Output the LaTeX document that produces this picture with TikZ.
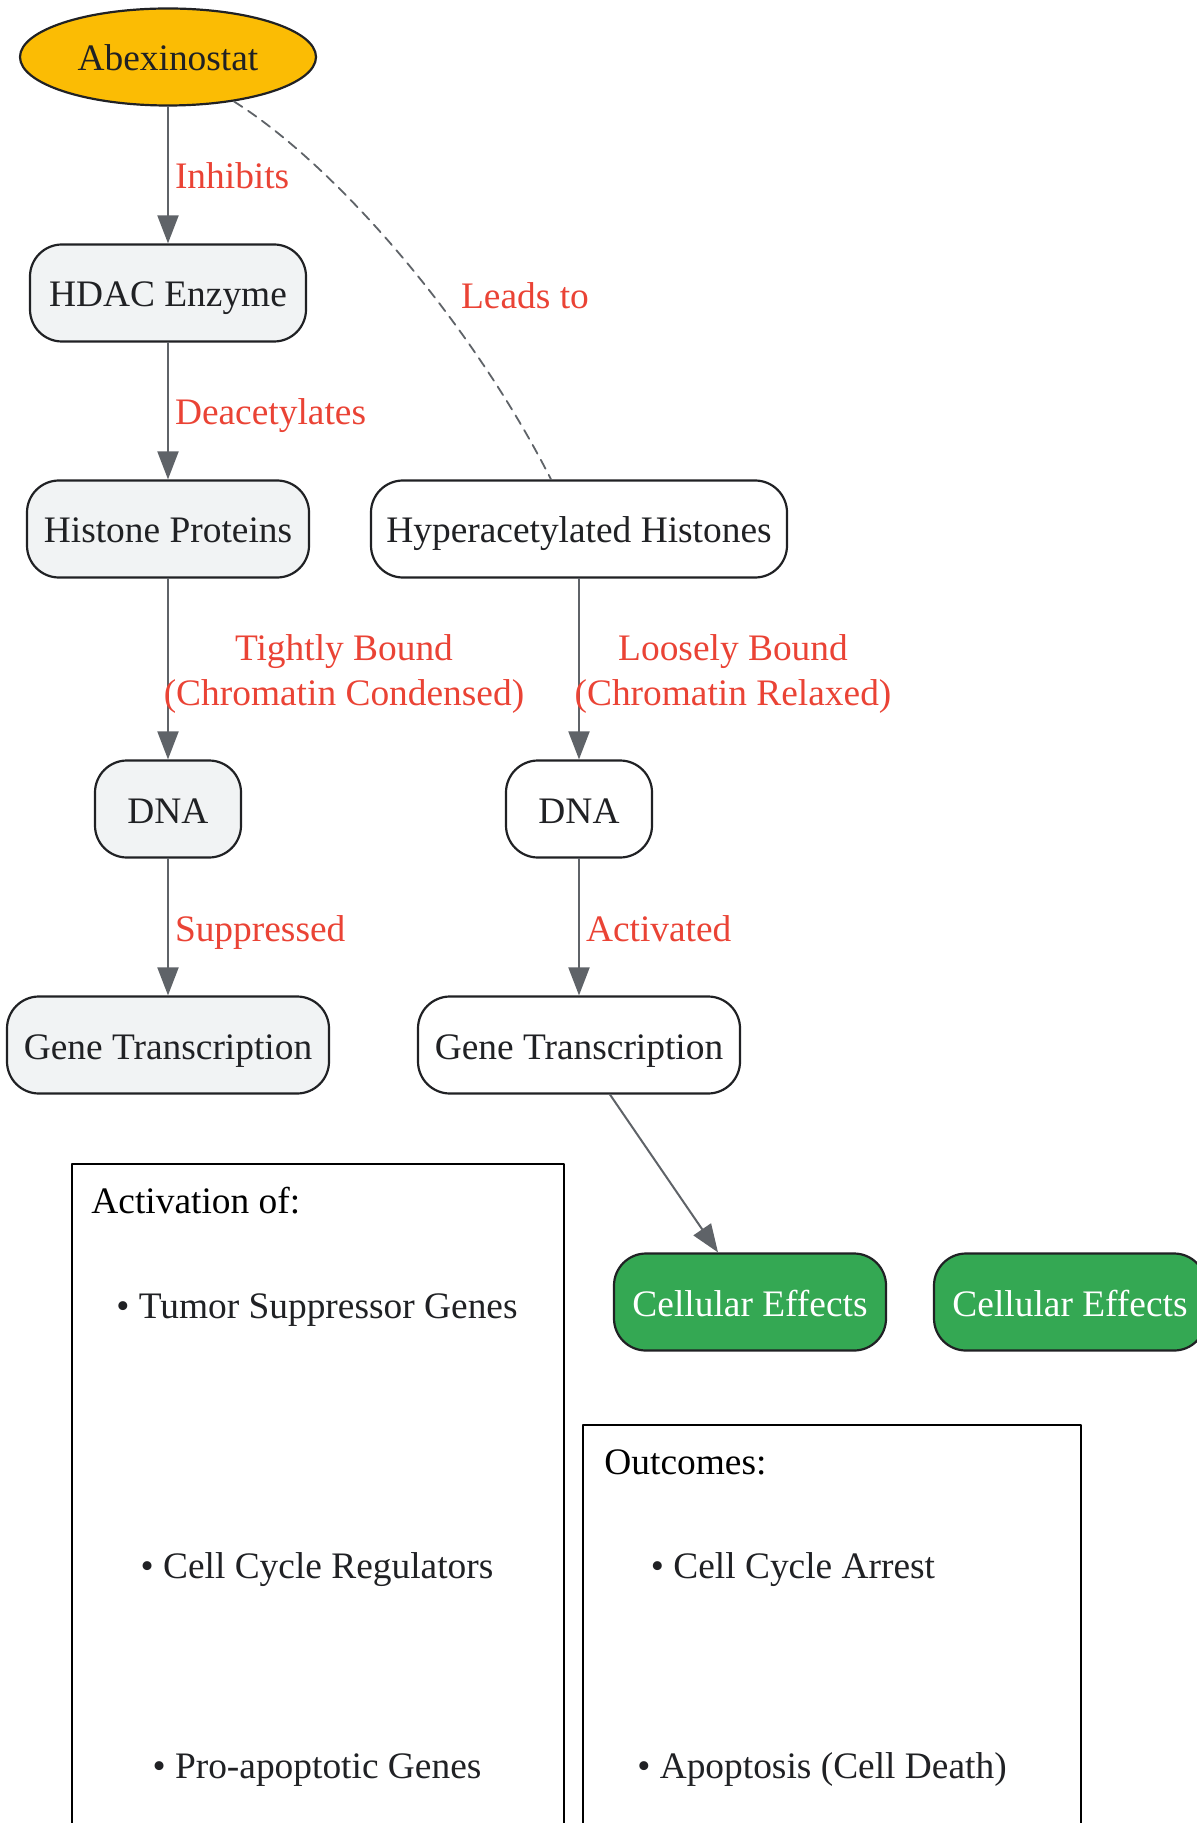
\documentclass[tikz,border=0pt]{standalone}
\usepackage{fontspec}
\setmainfont{Liberation Serif}
\usetikzlibrary{arrows.meta,shapes.geometric}
\definecolor{drugfill}{RGB}{251,188,4}
\definecolor{greyfill}{RGB}{241,243,244}
\definecolor{effectfill}{RGB}{52,168,83}
\definecolor{edgegrey}{RGB}{95,99,104}
\definecolor{labelred}{RGB}{234,67,53}
\definecolor{inkdark}{RGB}{32,33,36}

\begin{document}
\begin{tikzpicture}[x=0.5pt,y=-0.5pt,line cap=round,line join=round,
	>={Triangle[length=14pt,width=10.5pt]},
	every node/.style={font=\fontsize{18.7pt}{22.5pt}\selectfont},
	oneline/.style={text height=14pt,text depth=0pt},
	drug/.style={oneline,ellipse,draw=inkdark,line width=1.1pt,fill=drugfill,text=inkdark,minimum width=148pt,minimum height=48.5pt,inner sep=0pt},
	stepbox/.style={oneline,rectangle,rounded corners=16pt,draw=inkdark,line width=1.1pt,text=inkdark,minimum height=48.5pt,inner sep=0pt},
	offbox/.style={stepbox,fill=greyfill},
	onbox/.style={stepbox,fill=white},
	effect/.style={stepbox,fill=effectfill,text=white},
	listbox/.style={rectangle,draw=black,line width=1.2pt,inner sep=0pt},
	listtext/.style={oneline,text=inkdark},
	edge/.style={->,draw=edgegrey,line width=1pt},
	elabel/.style={oneline,text=labelred,inner sep=3pt},
	twolabel/.style={text=labelred,inner sep=3pt,align=center,yshift=-2.6pt}]
			\useasboundingbox (0,0) rectangle (1197,1823);
			\clip (0,0) rectangle (1197,1823);
			\node[drug] (abx) at (168,57) {Abexinostat};
			\node[offbox,minimum width=138pt] (hdac) at (168,293) {HDAC Enzyme};
			\node[offbox,minimum width=141pt] (hist) at (168,529) {Histone Proteins};
			\node[onbox,minimum width=208pt] (hyper) at (579,529) {Hyperacetylated Histones};
			\node[offbox,minimum width=73pt] (dnaoff) at (168,809) {DNA};
			\node[onbox,minimum width=73pt] (dnaon) at (579,809) {DNA};
			\node[offbox,minimum width=161pt] (geneoff) at (168,1045) {Gene Transcription};
			\node[onbox,minimum width=161pt] (geneon) at (579,1045) {Gene Transcription};
			\node[effect,minimum width=136pt] (effA) at (750,1302) {Cellular Effects};
			\node[effect,minimum width=136pt] (effB) at (1070,1302) {Cellular Effects};
			\draw[edge] (abx) -- node[elabel,right] {Inhibits} (hdac);
			\draw[edge] (hdac) -- node[elabel,right] {Deacetylates} (hist);
			\draw[edge] (hist) -- node[twolabel,xshift=88pt] {Tightly Bound\\(Chromatin Condensed)} (dnaoff);
			\draw[edge] (hyper) -- node[twolabel,xshift=77pt] {Loosely Bound\\(Chromatin Relaxed)} (dnaon);
			\draw[edge] (dnaoff) -- node[elabel,right] {Suppressed} (geneoff);
			\draw[edge] (dnaon) -- node[elabel,right] {Activated} (geneon);
			\draw[edge] ([xshift=15.5pt]geneon.south) -- ([xshift=-16pt]effA.north);
			\draw[draw=edgegrey,line width=0.9pt,dash pattern=on 5pt off 3.5pt] (abx.-34) .. controls (335,165) and (470,320) .. ([xshift=-14pt]hyper.north) node[elabel,pos=0.5,xshift=62.5pt,yshift=-20pt] {Leads to};
			\node[listbox,minimum width=246pt,minimum height=368pt] (actbox) at (318,1532) {};
			\node[oneline,anchor=west,inner sep=0pt,text=black] (acttitle) at (91,1199) {Activation of:};
			\node[listtext] (actA) at (317,1304) {• Tumor Suppressor Genes};
			\node[listtext] (actB) at (317,1564) {• Cell Cycle Regulators};
			\node[listtext] (actC) at (317,1764) {• Pro-apoptotic Genes};
			\node[listbox,minimum width=249pt,minimum height=237.5pt] (outbox) at (832,1662.5) {};
			\node[oneline,anchor=west,inner sep=0pt,text=black] (outtitle) at (604,1460) {Outcomes:};
			\node[listtext] (outA) at (793,1564) {• Cell Cycle Arrest};
			\node[listtext] (outB) at (822,1764) {• Apoptosis (Cell Death)};
		\end{tikzpicture}
\end{document}
